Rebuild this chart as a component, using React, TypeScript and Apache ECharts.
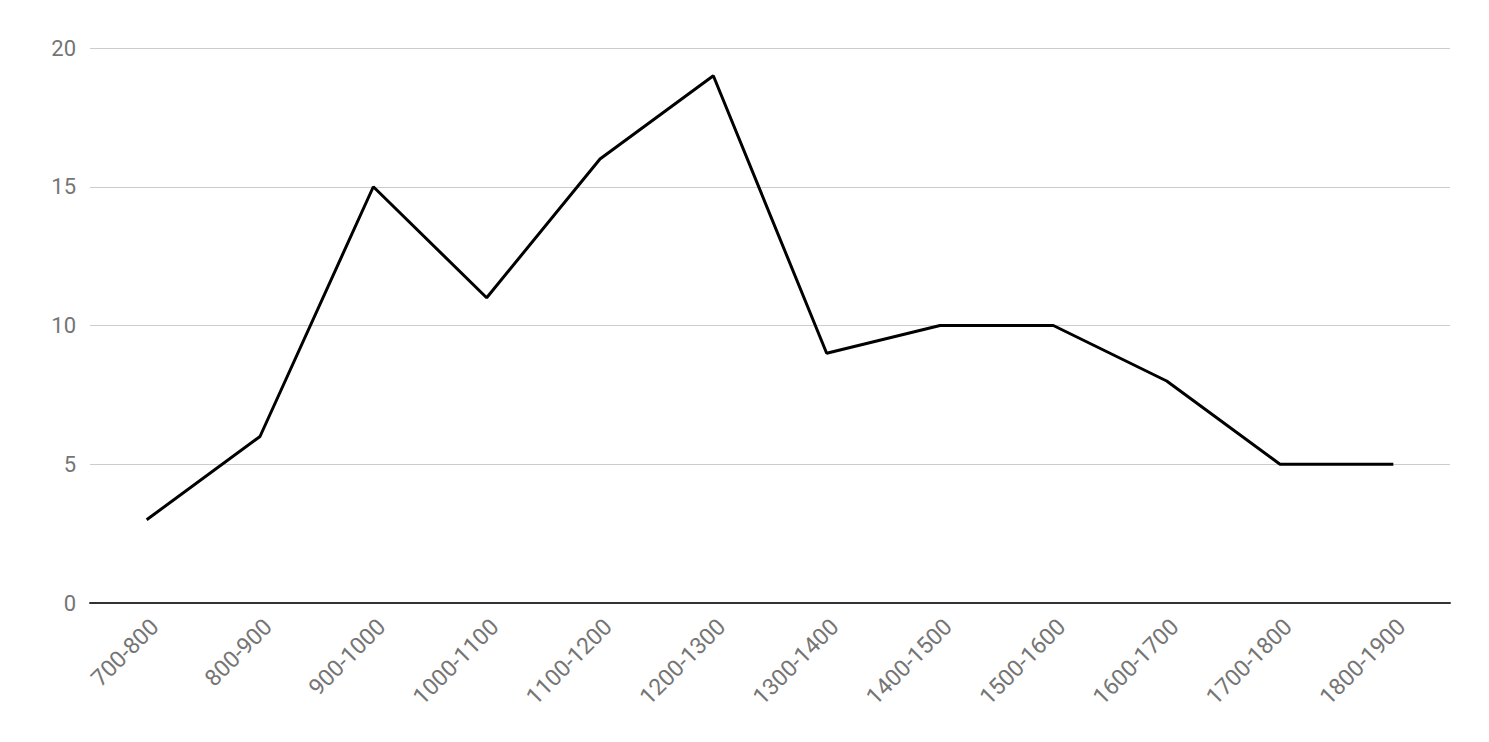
import React, { useEffect, useRef } from "react";
import * as echarts from "echarts";

const categories = ["700-800", "800-900", "900-1000", "1000-1100", "1100-1200", "1200-1300", "1300-1400", "1400-1500", "1500-1600", "1600-1700", "1700-1800", "1800-1900"];
const values = [3, 6, 15, 11, 16, 19, 9, 10, 10, 8, 5, 5];

export default function App() {
  const ref = useRef<HTMLDivElement>(null);
  useEffect(() => {
    const chart = echarts.init(ref.current!, null, { renderer: "svg" });
    chart.setOption({
      animation: false,
      backgroundColor: "#ffffff",
      grid: { left: 90, right: 39, top: 48, bottom: 139 },
      xAxis: {
        type: "category",
        data: categories,
        boundaryGap: true,
        axisLine: { lineStyle: { color: "#333333", width: 2 } },
        axisTick: { show: false },
        axisLabel: {
          rotate: 45,
          interval: 0,
          color: "#757575",
          fontFamily: "Roboto",
          fontSize: 23,
          margin: 12,
          verticalAlign: "top",
        },
      },
      yAxis: {
        type: "value",
        min: 0,
        max: 20,
        interval: 5,
        axisLine: { show: false },
        axisTick: { show: false },
        axisLabel: { color: "#757575", fontFamily: "Roboto", fontSize: 22, margin: 14 },
        splitLine: { lineStyle: { color: "#cccccc", width: 1 } },
      },
      series: [
        {
          type: "line",
          data: values,
          symbol: "none",
          lineStyle: { color: "#000000", width: 3 },
          z: 3,
        },
      ],
    });
    return () => chart.dispose();
  }, []);
  return <div ref={ref} style={{ position: "fixed", left: 0, top: 0, width: 1489, height: 742 }} />;
}
